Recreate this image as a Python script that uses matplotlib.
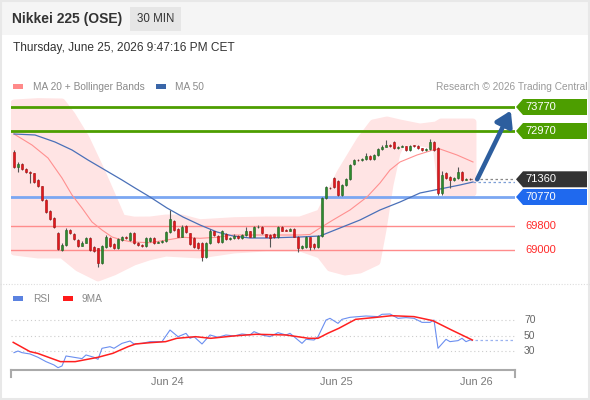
import matplotlib
matplotlib.use('Agg')
import matplotlib.pyplot as plt
from matplotlib.patches import Rectangle, Polygon
from matplotlib.lines import Line2D

plt.rcParams['font.family'] = ['Liberation Sans', 'DejaVu Sans']

# ---------------- data ----------------
opens = [72280, 71780, 71870, 71690, 71600, 71560, 71340, 71120, 70670, 70300,
         70070, 69580, 69000, 69170, 69670, 69540, 69340, 69140, 69250, 69410,
         69110, 69060, 68580, 69110, 69400, 69200, 69070, 69340, 69450, 69340,
         69560, 69230, 69180, 69120, 69300, 69400, 69240, 69270, 69300, 69610,
         69980, 69700, 69450, 69800, 69560, 69390, 69250, 69250, 68760, 69230,
         69620, 69470, 69280, 69540, 69360, 69400, 69470, 69400, 69500, 69620,
         69450, 69760, 69780, 69530, 69500, 69530, 69430, 69780, 69680, 69650,
         69700, 69450, 69060, 69100, 69430, 69200, 69110, 69470, 70730, 71070,
         71390, 71310, 70840, 71170, 71360, 71860, 72000, 71990, 72040, 72150,
         72040, 72170, 72370, 72450, 72500, 72590, 72400, 72450, 72460, 72340,
         72480, 72470, 72390, 72340, 72370, 72615, 72390, 70890, 71580, 71450,
         71340, 71390, 71590, 71340, 71370]
closes = [71780, 71870, 71690, 71590, 71560, 71280, 71120, 70670, 70280, 70030,
          69780, 69030, 69170, 69670, 69560, 69380, 69140, 69250, 69390, 69000,
          68980, 68580, 69140, 69450, 69140, 69070, 69370, 69450, 69390, 69560,
          69230, 69180, 69120, 69390, 69400, 69240, 69270, 69300, 69610, 70020,
          69670, 69450, 69780, 69590, 69200, 69110, 69060, 68760, 69250, 69650,
          69510, 69280, 69620, 69360, 69400, 69470, 69400, 69500, 69620, 69450,
          69760, 69780, 69560, 69450, 69390, 69430, 69760, 69650, 69650, 69700,
          69450, 69060, 69140, 69430, 69100, 69110, 69470, 70730, 71090, 71060,
          71110, 70840, 71170, 71360, 71840, 72000, 71990, 72040, 72150, 72040,
          72170, 72370, 72450, 72500, 72480, 72400, 72450, 72460, 72340, 72480,
          72470, 72390, 72340, 72370, 72590, 72340, 70890, 71500, 71390, 71340,
          71390, 71590, 71340, 71370, 71360]
highs = [72330, 71950, 71900, 71720, 71640, 71580, 71380, 71150, 70700, 70330,
         70100, 69600, 69220, 69720, 69700, 69570, 69380, 69300, 69430, 69440,
         69140, 69080, 69180, 69500, 69430, 69230, 69400, 69480, 69480, 69600,
         69590, 69260, 69200, 69420, 69440, 69420, 69300, 69330, 69650, 70330,
         70000, 69720, 69820, 69830, 69580, 69420, 69270, 69280, 69280, 69690,
         69650, 69500, 69660, 69560, 69420, 69520, 69500, 69530, 69780, 69640,
         69800, 69830, 69800, 69550, 69520, 69560, 69790, 69800, 69700, 69740,
         69720, 69470, 69180, 69460, 69450, 69220, 69500, 70760, 71130, 71100,
         71440, 71330, 71200, 71400, 71870, 72030, 72040, 72080, 72250, 72170,
         72200, 72400, 72500, 72670, 72530, 72620, 72480, 72490, 72480, 72510,
         72500, 72490, 72410, 72400, 72700, 72640, 72420, 71640, 71600, 71470,
         71420, 71780, 71620, 71400, 71390]
lows = [71750, 71610, 71660, 71560, 71230, 71250, 71090, 70640, 70250, 70000,
        69750, 69000, 68960, 69140, 69530, 69350, 69110, 69130, 69230, 68970,
        68950, 68450, 68540, 69080, 69110, 69040, 69040, 69310, 69360, 69310,
        69200, 69150, 69090, 69100, 69280, 69210, 69230, 69250, 69280, 69580,
        69640, 69420, 69420, 69560, 69170, 69080, 69020, 68620, 68730, 69200,
        69480, 69250, 69250, 69330, 69340, 69370, 69370, 69380, 69480, 69420,
        69420, 69730, 69530, 69420, 69090, 69400, 69400, 69620, 69620, 69620,
        69420, 68940, 69020, 69080, 69000, 69040, 69080, 69440, 70700, 71030,
        71080, 70800, 70810, 71140, 71330, 71830, 71960, 71960, 72010, 72010,
        72010, 72140, 72340, 72420, 72450, 72370, 72370, 72420, 72310, 72310,
        72440, 72360, 72310, 72310, 72340, 72310, 70830, 70830, 71360, 71070,
        71310, 71360, 71310, 71330, 71340]

ma20_idx = [0, 4.5, 8.5, 12, 14.5, 17, 19.5, 22, 24.5, 27, 29.5, 34, 38.25, 42.25, 46.5,
            50.75, 54.75, 63.25, 71.5, 74, 76.5, 79.75, 84, 88.25, 91.5, 94, 96.5,
            100.75, 104.75, 106.5, 110.75, 114.75]
ma20_val = [72870, 72503, 72070, 71403, 70837, 70403, 69937, 69670, 69437, 69337, 69270,
            69247, 69337, 69427, 69393, 69427, 69503, 69503, 69503, 69520, 69737, 70003,
            70337, 70770, 71237, 71670, 71937, 72170, 72337, 72370, 72170, 71937]
ma50_idx = [0, 5.25, 10.25, 14.5, 18.5, 22.75, 27, 30.25, 34, 38.25, 42.25, 46.5, 50.75,
            54.75, 59, 63.25, 71.5, 76.5, 81.5, 86.5, 91.5, 96.5, 101.5, 106.5, 111.5, 114.75]
ma50_val = [72870, 72837, 72603, 72337, 72003, 71670, 71337, 71070, 70770, 70403, 70103,
            69837, 69603, 69470, 69403, 69403, 69437, 69470, 69737, 70003, 70337, 70603,
            70903, 71037, 71170, 71270]
bb_up_idx = [0, 6, 12, 14.5, 18, 22, 24.5, 27, 30, 34, 38, 42, 46.5, 55, 63, 71.5, 76.5,
             81.5, 86.5, 89.75, 93.25, 96.5, 101.5, 105.5, 106.75, 114.75]
bb_up_val = [73903, 73950, 73937, 73503, 72737, 71603, 70837, 70070, 70000, 70003, 70070,
             70070, 69913, 69980, 70003, 70003, 70237, 71570, 72670, 73237, 73337, 73237,
             73103, 73170, 73270, 73270]
bb_lo_idx = [0, 6, 12, 16, 21, 25, 30, 34, 38, 46.5, 55, 63, 71.5, 76.5, 79, 82.75, 86.5,
             90.75, 92.25, 94, 95.75, 97, 102, 105.5, 106.75, 108, 114.75]
bb_lo_val = [68937, 68837, 68837, 68403, 68070, 68270, 68603, 68780, 68900, 68837, 69003,
             69070, 69070, 68837, 68403, 68270, 68337, 68603, 69670, 71170, 72237, 72570,
             72570, 72470, 71170, 70903, 70903]

rsi_idx = [0, 1, 2, 4, 6, 8, 10, 11, 12, 13, 15, 17, 18, 20, 21, 22, 24, 25, 27, 29, 30,
           32, 34, 37, 39, 41, 43, 44, 45, 47, 49, 51, 53, 55, 57, 59, 60, 62, 64, 66, 68,
           69, 72, 73, 75, 76, 78, 79, 81, 82, 84, 88, 91, 92, 94, 96, 98, 100, 102, 104,
           105, 106, 108, 109, 111, 112, 113, 114]
rsi_val = [28.5, 30.6, 28.5, 26.8, 22.5, 16.9, 12.6, 9.1, 11.3, 24.2, 22.5, 20.8, 25.5,
           22.5, 19.9, 34.1, 36.2, 34.1, 40.5, 43.5, 39.7, 40.5, 42.7, 42.7, 57.7, 49.1,
           53.4, 47.0, 49.1, 39.7, 51.3, 48.3, 51.3, 50.0, 52.6, 51.3, 55.6, 51.3, 49.1,
           54.3, 51.3, 53.4, 40.5, 45.7, 44.8, 49.1, 70.6, 72.8, 66.3, 71.5, 74.1, 75.8,
           75.0, 78.0, 78.4, 72.8, 73.7, 72.8, 67.6, 67.6, 70.6, 34.1, 45.7, 42.7, 44.0,
           47.0, 42.7, 44.8]
ma9_idx = [-0.2, 4, 5.9, 11.6, 15.3, 21, 24.7, 28.5, 30.4, 34.1, 37.9, 40.7, 45.4, 49.2,
           54.8, 60.5, 68, 73.7, 76, 78.4, 81.2, 85.4, 90.6, 94.4, 100, 104.7, 109.4, 114.6]
ma9_val = [41.8, 29.8, 27.6, 16.9, 16.9, 22.5, 27.6, 36.2, 39.7, 41.4, 42.7, 47.0, 49.1,
           47.0, 50.0, 52.2, 51.3, 47.0, 47.0, 53.4, 59.9, 71.5, 74.1, 76.2, 75.0, 69.8,
           57.7, 44.8]

resist_levels = [73770, 72970]
support_levels = [69800, 69000]
pivot_level = 70770
last_price = 71360
date_ticks = [38.25, 80.5, 115.5]
date_labels = ['Jun 24', 'Jun 25', 'Jun 26']
rsi_levels = [70, 50, 30]

# ---------------- figure ----------------
W, H = 590, 400
fig = plt.figure(figsize=(5.9, 4.0), dpi=100)
fig.patch.set_facecolor('white')


def fx(x):
    return x / W


def fy(y):
    return 1 - y / H


def frect(x, y, w, h, **kw):
    fig.add_artist(Rectangle((fx(x), fy(y + h)), w / W, h / H,
                             transform=fig.transFigure, **kw))


# header
frect(0, 0, 590, 35, facecolor='#f5f5f5', edgecolor='none', zorder=0)
frect(130, 7, 51, 24, facecolor='#e6e6e6', edgecolor='none', zorder=1)
fig.text(fx(12), fy(19), 'Nikkei 225 (OSE)', fontsize=10, fontweight='bold',
         color='#333333', va='center', ha='left')
fig.text(fx(155.5), fy(19), '30 MIN', fontsize=8.3, color='#333333', va='center', ha='center')
fig.text(fx(13), fy(48), 'Thursday, June 25, 2026 9:47:16 PM CET', fontsize=8.6,
         color='#333333', va='center', ha='left')

# legends
frect(13, 84, 10, 5, facecolor='#ff8a8a', edgecolor='none')
fig.text(fx(33), fy(86.5), 'MA 20 + Bollinger Bands', fontsize=7.3, color='#8a8a8a', va='center')
frect(156, 84, 10, 5, facecolor='#3a66a8', edgecolor='none')
fig.text(fx(175), fy(86.5), 'MA 50', fontsize=7.3, color='#8a8a8a', va='center')
fig.text(fx(587), fy(86.5), 'Research \u00a9 2026 Trading Central', fontsize=7.3,
         color='#9a9a9a', va='center', ha='right')
frect(13, 296, 10, 5, facecolor='#5b82e0', edgecolor='none')
fig.text(fx(33), fy(298.5), 'RSI', fontsize=7.3, color='#8a8a8a', va='center')
frect(63, 296, 10, 5, facecolor='#ff1a1a', edgecolor='none')
fig.text(fx(82), fy(298.5), '9MA', fontsize=7.3, color='#8a8a8a', va='center')

# separator and frame
fig.add_artist(Line2D([0, 1], [fy(284), fy(284)], transform=fig.transFigure,
                      color='#dddddd', lw=0.8, linestyle=(0, (1, 1.5))))
fig.add_artist(Rectangle((0.001, 0.002), 0.997, 0.996, transform=fig.transFigure,
                         facecolor='none', edgecolor='#e8e8e8', lw=1.5))

# ---------------- main price axes ----------------
X0, X1 = -0.75, 125.25
ax = fig.add_axes([fx(11), fy(283), (515 - 11) / W, (283 - 95) / H])
ax.set_xlim(X0, X1)
ax.set_ylim(67903, 74170)
ax.axis('off')

# bollinger band fill
band_x = bb_up_idx + bb_lo_idx[::-1]
band_y = bb_up_val + bb_lo_val[::-1]
ax.fill(band_x, band_y, facecolor='#ffe4e4', edgecolor='#ffe4e4', lw=5,
        joinstyle='round', zorder=1)

# level lines
for lv in resist_levels:
    ax.axhline(lv, color='#4d9e00', lw=2, zorder=2)
for lv in support_levels:
    ax.axhline(lv, color='#ff8c8c', lw=1, zorder=2)
ax.axhline(pivot_level, color='#7ba7f2', lw=2, zorder=2)

# moving averages
ax.plot(ma20_idx, ma20_val, color='#ff9090', lw=0.8, zorder=3)
ax.plot(ma50_idx, ma50_val, color='#4a70b8', lw=0.9, zorder=3)
ax.plot([ma50_idx[-1], X1], [ma50_val[-1], ma50_val[-1]], color='#7d9fd6', lw=0.9,
        linestyle=(0, (2, 2)), zorder=3)
ax.plot([len(closes) - 1, X1], [last_price, last_price], color='#888888', lw=0.9,
        linestyle=(0, (2, 2)), zorder=3)

# candles
for i, (o, c, h, l) in enumerate(zip(opens, closes, highs, lows)):
    up = c >= o
    face = '#2e8b2e' if up else '#e3171d'
    edge = '#1f5f1f' if up else '#a01010'
    ax.vlines(i, l, h, color='#555555', lw=0.8, zorder=4)
    body = max(abs(c - o), 25)
    ax.bar(i, body, bottom=min(o, c), width=0.72, color=face, edgecolor=edge,
           lw=0.4, zorder=5)

# arrow
ax.annotate('', xy=(124.2, 73650), xytext=(115.8, last_price),
            arrowprops=dict(arrowstyle='-|>,head_length=0.8,head_width=0.5',
                            color='#2d5e9e', lw=3.3, mutation_scale=11,
                            shrinkA=0, shrinkB=0),
            annotation_clip=False, zorder=6)

# right-hand labels
def ypix(p):
    return ax.transData.transform((0, p))[1]


def tag(p, text, color):
    yd = ypix(p)
    pts = [(516, yd), (523, yd + 8), (587, yd + 8), (587, yd - 8), (523, yd - 8)]
    pts = [(x / W, y / H) for x, y in pts]
    fig.add_artist(Polygon(pts, closed=True, transform=fig.transFigure,
                           facecolor=color, edgecolor='none', zorder=5))
    fig.text(fx(541), yd / H, text, fontsize=8, color='white', ha='center',
             va='center', zorder=6)


for lv in resist_levels:
    tag(lv, str(lv), '#4d9e00')
tag(last_price, str(last_price), '#333333')
tag(pivot_level, str(pivot_level), '#1f69ee')
for lv in support_levels:
    fig.text(fx(541), ypix(lv) / H, str(lv), fontsize=8, color='#ff2a2a',
             ha='center', va='center')

# ---------------- RSI axes ----------------
ax2 = fig.add_axes([fx(11), fy(370), (515 - 11) / W, (370 - 283) / H])
ax2.set_xlim(X0, X1)
ax2.set_ylim(6.1, 118.4)
ax2.patch.set_alpha(0)
for s in ['left', 'right', 'top']:
    ax2.spines[s].set_visible(False)
ax2.spines['bottom'].set_color('#aaaaaa')
ax2.spines['bottom'].set_linewidth(1.5)
ax2.set_yticks([])
ax2.set_xticks(date_ticks)
ax2.set_xticklabels(date_labels, fontsize=7.8, color='#777777')
ax2.tick_params(axis='x', length=0, pad=5)
for xa in [0, 1]:
    ax2.plot([xa, xa], [0, -0.075], transform=ax2.transAxes, color='#aaaaaa',
             lw=1.5, clip_on=False)

for lv in rsi_levels:
    ax2.axhline(lv, color='#cccccc', lw=0.8, linestyle=(0, (1, 2.5)))
    fig.text(fx(524), ax2.transData.transform((0, lv))[1] / H, str(lv),
             fontsize=7.5, color='#666666', ha='left', va='center')

ax2.plot(rsi_idx, rsi_val, color='#6b8ff0', lw=0.8, zorder=3)
ax2.plot([rsi_idx[-1], X1], [rsi_val[-1], rsi_val[-1]], color='#9bb3f0', lw=0.9,
         linestyle=(0, (2, 2)), zorder=2)
ax2.plot(ma9_idx, ma9_val, color='#ff2020', lw=1.1, zorder=4)

fig.savefig('out.png', dpi=100)
